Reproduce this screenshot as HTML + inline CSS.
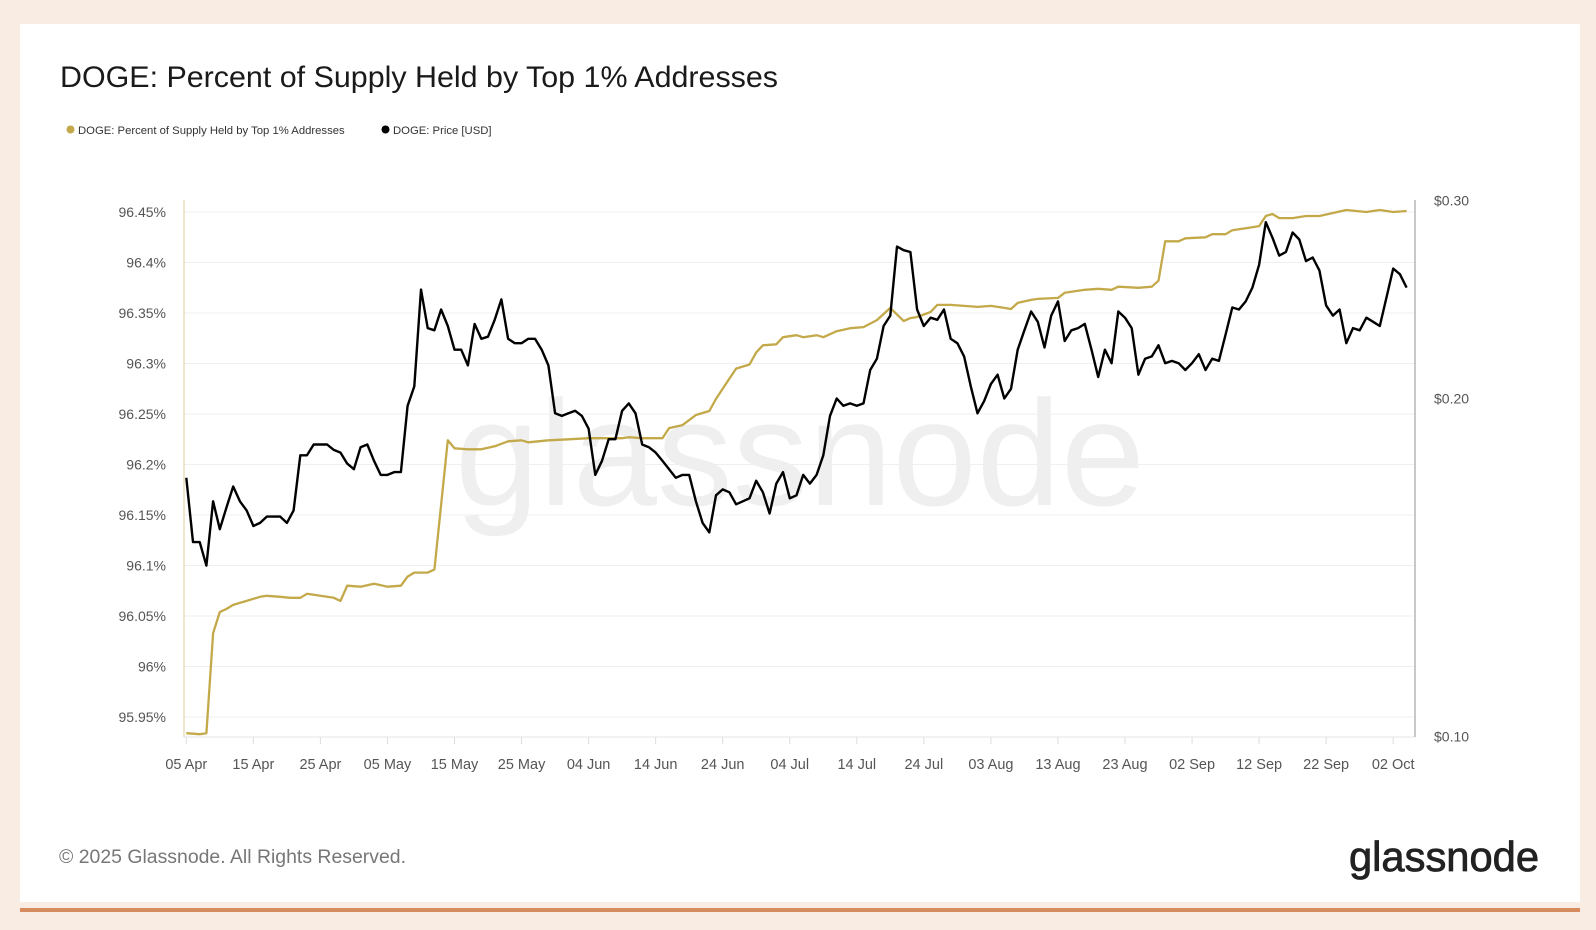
<!DOCTYPE html>
<html><head><meta charset="utf-8">
<style>
html,body{margin:0;padding:0;background:#f8ece3;}
svg{display:block;font-family:"Liberation Sans",sans-serif;}
</style></head>
<body>
<svg id="chart" width="1596" height="930" viewBox="0 0 1596 930" xmlns="http://www.w3.org/2000/svg">
  <rect x="0" y="0" width="1596" height="930" fill="#f8ece3"/>
  <rect x="20" y="24" width="1560" height="878" fill="#ffffff"/>
  <rect x="20" y="908" width="1560" height="4" fill="#d68c5e"/>
  <text x="60" y="87" font-size="29.5" fill="#1a1a1a" textLength="718" lengthAdjust="spacingAndGlyphs">DOGE: Percent of Supply Held by Top 1% Addresses</text>
  <g>
    <g>
      <circle cx="70.5" cy="129.5" r="4" fill="#c3a94a"/>
      <text x="78" y="134" font-size="11.3" fill="#333">DOGE: Percent of Supply Held by Top 1% Addresses</text>
    </g>
    <g>
      <circle cx="385.5" cy="129.5" r="4" fill="#000"/>
      <text x="393" y="134" font-size="11.3" fill="#333">DOGE: Price [USD]</text>
    </g>
  </g>
  <text x="800" y="505" font-size="150" fill="#efefef" text-anchor="middle" textLength="690" lengthAdjust="spacingAndGlyphs">glassnode</text>
  <g id="grid"></g>
  <g id="axes"></g>
  <g id="series"></g>
  <text x="59" y="863" font-size="19" fill="#777" textLength="347" lengthAdjust="spacingAndGlyphs">© 2025 Glassnode. All Rights Reserved.</text>
  <text x="1349" y="871" font-size="42" fill="#222" stroke="#222" stroke-width="0.8" textLength="190" lengthAdjust="spacingAndGlyphs">glassnode</text>
</svg>
<script>
const startDate = Date.UTC(2025, 3, 5);
const xTickLabels = ["05 Apr","15 Apr","25 Apr","05 May","15 May","25 May","04 Jun","14 Jun","24 Jun","04 Jul","14 Jul","24 Jul","03 Aug","13 Aug","23 Aug","02 Sep","12 Sep","22 Sep","02 Oct"];
const xTickDays = [0,10,20,30,40,50,60,70,80,90,100,110,120,130,140,150,160,170,180];
const leftTicks = [95.95,96,96.05,96.1,96.15,96.2,96.25,96.3,96.35,96.4,96.45];
const leftTickLabels = ["95.95%","96%","96.05%","96.1%","96.15%","96.2%","96.25%","96.3%","96.35%","96.4%","96.45%"];
const rightTicks = [0.10,0.20,0.30];
const rightTickLabels = ["$0.10","$0.20","$0.30"];
// Daily DOGE price, day 0 = 05 Apr
const priceValues = [0.170,0.149,0.149,0.142,0.162,0.153,0.160,0.167,0.162,0.159,0.154,0.155,0.157,0.157,0.157,0.155,0.159,0.178,0.178,0.182,
0.182,0.182,0.180,0.179,0.175,0.173,0.181,0.182,0.176,0.171,0.171,0.172,0.172,0.197,0.205,0.250,0.231,0.230,0.240,0.232,
0.221,0.221,0.214,0.233,0.226,0.227,0.235,0.245,0.226,0.224,0.224,0.226,0.226,0.221,0.214,0.194,0.193,0.194,0.195,0.193,
0.188,0.171,0.176,0.184,0.184,0.195,0.198,0.194,0.182,0.181,0.179,0.176,0.173,0.170,0.171,0.171,0.162,0.155,0.152,0.164,
0.166,0.165,0.161,0.162,0.163,0.169,0.165,0.158,0.168,0.172,0.163,0.164,0.171,0.168,0.171,0.178,0.193,0.200,0.197,0.198,
0.197,0.198,0.212,0.217,0.232,0.237,0.273,0.271,0.270,0.240,0.232,0.236,0.235,0.240,0.226,0.224,0.218,0.205,0.194,0.199,
0.206,0.210,0.200,0.204,0.221,0.230,0.239,0.234,0.222,0.237,0.244,0.225,0.230,0.231,0.233,0.221,0.209,0.221,0.215,0.239,
0.236,0.231,0.210,0.217,0.218,0.223,0.215,0.216,0.215,0.212,0.215,0.219,0.212,0.217,0.216,0.228,0.241,0.240,0.244,0.251,
0.263,0.287,0.278,0.268,0.270,0.281,0.277,0.265,0.267,0.260,0.242,0.237,0.240,0.224,0.231,0.230,0.236,0.234,0.232,0.246,
0.261,0.258,0.251];
const supplyDays = [0,2,3,4,5,6,7,9,11,12,14,15.5,17,18,20,22,23,24,26,28,30,32,33,34,36,37,39,40,42,44,46,48,50,51,54,57,60,65,66,68,71,72,74,75,76,78,79,80,82,84,85,86,88,89,91,92,94,95,97,99,101,103,105,107,108,109,111,112,114,116,118,120,122,123,124,126,127,130,131,132,134,136,138,139,142,144,145,146,148,149,152,153,155,156,158,160,161,162,163,165,167,169,171,173,176,178,180,182];
const supplyValues = [95.934,95.933,95.934,96.033,96.054,96.057,96.061,96.065,96.069,96.070,96.069,96.068,96.068,96.072,96.070,96.068,96.065,96.080,96.079,96.082,96.079,96.080,96.089,96.093,96.093,96.096,96.224,96.216,96.215,96.215,96.218,96.223,96.224,96.222,96.224,96.225,96.226,96.226,96.227,96.226,96.226,96.236,96.239,96.244,96.249,96.253,96.265,96.275,96.295,96.299,96.311,96.318,96.319,96.326,96.328,96.326,96.328,96.326,96.332,96.335,96.336,96.343,96.355,96.342,96.345,96.346,96.351,96.358,96.358,96.357,96.356,96.357,96.355,96.354,96.360,96.363,96.364,96.365,96.370,96.371,96.373,96.374,96.373,96.376,96.375,96.376,96.382,96.421,96.421,96.424,96.425,96.428,96.428,96.432,96.434,96.436,96.446,96.448,96.444,96.444,96.446,96.446,96.449,96.452,96.450,96.452,96.450,96.451];

const NS = "http://www.w3.org/2000/svg";
const X0 = 186.3, PXDAY = 6.705;
const xScale = d => X0 + d * PXDAY;
const yLeft = v => 212 + (96.45 - v) / 0.05 * 50.5;
const yRight = p => 200.6 + Math.log(0.30 / p) * 488;
const TOP = 200, BOTTOM = 737, RIGHT = 1415, LEFT = 184;

function mk(tag, attrs, parent) {
  const el = document.createElementNS(NS, tag);
  for (const k in attrs) el.setAttribute(k, attrs[k]);
  parent.appendChild(el);
  return el;
}
const grid = document.getElementById('grid');
const axes = document.getElementById('axes');
const series = document.getElementById('series');

leftTicks.forEach((v, i) => {
  const y = yLeft(v);
  const gl = mk('line', {x1: LEFT, x2: RIGHT, y1: y, y2: y, stroke: '#efefef', 'stroke-width': 1}, grid);
  
  
  const t = mk('text', {x: 166, y: y + 5, 'font-size': 14, fill: '#555', 'text-anchor': 'end'}, axes);
  t.textContent = leftTickLabels[i];
  
  
});
rightTicks.forEach((p, i) => {
  const t = mk('text', {x: 1434, y: yRight(p) + 5, 'font-size': 14, fill: '#555'}, axes);
  t.textContent = rightTickLabels[i];
  
  
});
const bl = mk('line', {x1: LEFT, x2: RIGHT, y1: BOTTOM, y2: BOTTOM, stroke: '#e4e4e4', 'stroke-width': 1}, axes);


const ll = mk('line', {x1: LEFT, x2: LEFT, y1: TOP, y2: BOTTOM, stroke: '#e9dfbd', 'stroke-width': 1.5}, axes);


const rl = mk('line', {x1: RIGHT, x2: RIGHT, y1: TOP, y2: BOTTOM, stroke: '#b5b5b5', 'stroke-width': 1.5}, axes);


xTickDays.forEach((d, i) => {
  const x = xScale(d);
  const tk = mk('line', {x1: x, x2: x, y1: BOTTOM, y2: BOTTOM + 7, stroke: '#ddd', 'stroke-width': 1}, axes);
  
  
  const t = mk('text', {x: x, y: 769, 'font-size': 14.5, fill: '#555', 'text-anchor': 'middle'}, axes);
  t.textContent = xTickLabels[i];
  
  
});

const sp = supplyDays.map((d, i) => xScale(d).toFixed(1) + ',' + yLeft(supplyValues[i]).toFixed(1)).join(' ');
const supplyLine = mk('polyline', {points: sp, fill: 'none', stroke: '#c3a94a', 'stroke-width': 2.3, 'stroke-linejoin': 'round'}, series);



const pp = priceValues.map((p, i) => xScale(i).toFixed(1) + ',' + yRight(p).toFixed(1)).join(' ');
const priceLine = mk('polyline', {points: pp, fill: 'none', stroke: '#000', 'stroke-width': 2.4, 'stroke-linejoin': 'round'}, series);


</script>
</body></html>
